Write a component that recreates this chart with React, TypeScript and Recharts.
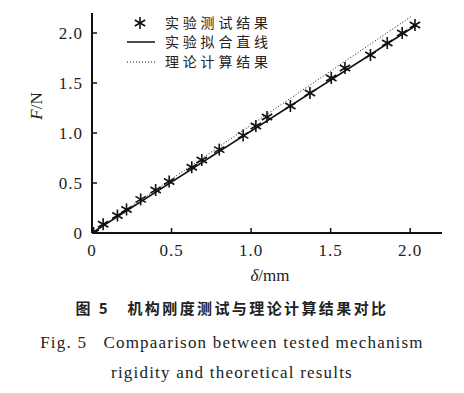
import {
  ComposedChart,
  Line,
  Scatter,
  XAxis,
  YAxis,
  Legend,
} from 'recharts';

// 实验测试结果 (δ/mm, F/N)
const testDelta = [0.01, 0.07, 0.16, 0.217, 0.306, 0.40, 0.485, 0.627, 0.69, 0.80, 0.95, 1.03, 1.10, 1.247, 1.37, 1.504, 1.59, 1.75, 1.856, 1.95, 2.03];
const testForce = [0.0, 0.087, 0.175, 0.235, 0.336, 0.43, 0.515, 0.657, 0.73, 0.834, 0.976, 1.07, 1.16, 1.27, 1.40, 1.55, 1.65, 1.78, 1.90, 2.00, 2.08];

// 实验拟合直线
const fitDelta = [0, 2.04];
const fitForce = [0, 2.08];

// 理论计算结果
const theoryDelta = [0, 2.01];
const theoryForce = [0, 2.17];

const xTicks = [0, 0.5, 1.0, 1.5, 2.0];
const yTicks = [0, 0.5, 1.0, 1.5, 2.0];

const legendNames = ['实验测试结果', '实验拟合直线', '理论计算结果'];

const testData = testDelta.map((d, i) => ({ d, f: testForce[i] }));
const fitData = fitDelta.map((d, i) => ({ d, f: fitForce[i] }));
const theoryData = theoryDelta.map((d, i) => ({ d, f: theoryForce[i] }));

const SERIF = 'Liberation Serif';
const CJK = 'Noto Sans CJK SC';

const fmt = (v: number) => (v === 0 ? '0' : v.toFixed(1));

function Star(props: any) {
  const { cx, cy } = props;
  if (cx == null || cy == null) return null;
  const r = 6;
  const a = r * Math.cos(Math.PI / 6);
  const b = r * Math.sin(Math.PI / 6);
  return (
    <g stroke="#111" strokeWidth={1.6}>
      <line x1={cx} y1={cy - r} x2={cx} y2={cy + r} />
      <line x1={cx - a} y1={cy - b} x2={cx + a} y2={cy + b} />
      <line x1={cx - a} y1={cy + b} x2={cx + a} y2={cy - b} />
    </g>
  );
}

// tick label x/y arrive at the inner end of the (inward) tick line
function XTick(props: any) {
  const { x, y, payload } = props;
  return (
    <text x={x} y={y + 28} textAnchor="middle" style={{ fontFamily: SERIF, fontSize: 17, letterSpacing: 1 }} fill="#222">
      {fmt(payload.value)}
    </text>
  );
}

function YTick(props: any) {
  const { x, y, payload } = props;
  return (
    <text x={x - 14} y={y + 6} textAnchor="end" style={{ fontFamily: SERIF, fontSize: 17, letterSpacing: 1 }} fill="#222">
      {fmt(payload.value)}
    </text>
  );
}

function ChartLegend() {
  const rowY = [23, 42, 62];
  return (
    <div style={{ position: 'absolute', left: 0, top: 0, width: 464, height: 80 }}>
      <svg width={300} height={80} style={{ position: 'absolute', left: 0, top: 0 }}>
        <Star cx={140} cy={rowY[0]} />
        <line x1={127} y1={rowY[1]} x2={155} y2={rowY[1]} stroke="#111" strokeWidth={1.5} />
        <line x1={127} y1={rowY[2]} x2={155} y2={rowY[2]} stroke="#111" strokeWidth={1} strokeDasharray="1 2" />
        {legendNames.map((n, i) => (
          <text
            key={n}
            x={165}
            y={rowY[i] + 5}
            style={{ fontFamily: CJK, fontSize: 14, letterSpacing: 3.8 }}
            fill="#222"
          >
            {n}
          </text>
        ))}
      </svg>
    </div>
  );
}

export default function App() {
  return (
    <div style={{ position: 'absolute', left: 0, top: 0, width: 464, height: 393, background: '#fff' }}>
      <ComposedChart
        width={464}
        height={290}
        margin={{ top: 13, right: 22, bottom: 27, left: 0 }}
      >
        <XAxis
          type="number"
          dataKey="d"
          domain={[0, 2.2]}
          ticks={xTicks}
          height={30}
          axisLine={{ stroke: '#111', strokeWidth: 2 }}
          tickLine={{ stroke: '#111', strokeWidth: 1.5 }}
          tickSize={-5}
          tickMargin={0}
          tick={<XTick />}
          allowDataOverflow
        />
        <YAxis
          type="number"
          dataKey="f"
          domain={[0, 2.2]}
          ticks={yTicks}
          width={92}
          axisLine={{ stroke: '#111', strokeWidth: 2 }}
          tickLine={{ stroke: '#111', strokeWidth: 1.5 }}
          tickSize={-5}
          tickMargin={0}
          tick={<YTick />}
          allowDataOverflow
        />
        <Legend content={() => <ChartLegend />} wrapperStyle={{ position: 'absolute', left: 0, top: 0 }} />
        <Line
          data={theoryData}
          dataKey="f"
          stroke="#111"
          strokeWidth={1}
          strokeDasharray="1 2"
          dot={false}
          isAnimationActive={false}
        />
        <Line
          data={fitData}
          dataKey="f"
          stroke="#111"
          strokeWidth={1.5}
          dot={false}
          isAnimationActive={false}
        />
        <Scatter data={testData} dataKey="f" shape={<Star />} isAnimationActive={false} />
      </ComposedChart>
      <svg width={464} height={290} style={{ position: 'absolute', left: 0, top: 0, pointerEvents: 'none' }}>
        <text
          x={42}
          y={106}
          transform="rotate(-90 42 106)"
          textAnchor="middle"
          style={{ fontFamily: SERIF, fontSize: 17 }}
          fill="#222"
        >
          <tspan fontStyle="italic">F</tspan>/N
        </text>
        <text x={270} y={281} textAnchor="middle" style={{ fontFamily: SERIF, fontSize: 17 }} fill="#222">
          <tspan fontStyle="italic">δ</tspan>/mm
        </text>
      </svg>
      <div
        style={{
          position: 'absolute',
          left: 0,
          top: 298,
          width: 464,
          textAlign: 'center',
          fontFamily: CJK,
          fontWeight: 'bold',
          fontSize: 15,
          letterSpacing: 2.4,
          color: '#222',
          lineHeight: '20px',
          whiteSpace: 'pre',
        }}
      >
        {'图 5   机构刚度测试与理论计算结果对比'}
      </div>
      <div
        style={{
          position: 'absolute',
          left: 0,
          top: 328,
          width: 464,
          textAlign: 'center',
          fontFamily: SERIF,
          fontSize: 17,
          letterSpacing: 1.2,
          color: '#222',
          lineHeight: '30px',
          whiteSpace: 'pre',
        }}
      >
        {'Fig. 5   Compaarison between tested mechanism\nrigidity and theoretical results'}
      </div>
    </div>
  );
}
